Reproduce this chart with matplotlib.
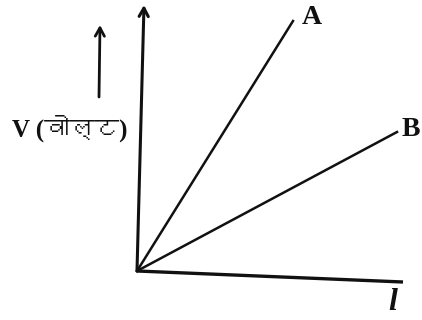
import matplotlib
matplotlib.use("Agg")
import matplotlib.pyplot as plt
from matplotlib import font_manager as fm
from matplotlib import ft2font

# ---- data (origin of graph at 0,0) ----
line_names = ["A", "B"]
l_A = [0, 156]
V_A = [0, 250]
l_B = [0, 260]
V_B = [0, 139]
y_axis_l = [0, 7]
y_axis_V = [0, 266]
x_axis_l = [0, 266]
x_axis_V = [0, -11]
ylabel_text = "V (वोल्ट)"
xlabel_text = "l"

# find a font with Devanagari glyphs
dev_font = None
for f in fm.fontManager.ttflist:
    try:
        cm = ft2font.FT2Font(f.fname).get_charmap()
        if 0x0935 in cm and 0x094B in cm:
            dev_font = f.name
            break
    except Exception:
        pass
label_family = ["Liberation Serif"] + ([dev_font] if dev_font else []) + ["DejaVu Sans"]

fig = plt.figure(figsize=(4.22, 3.2), dpi=100)
ax = fig.add_axes([0, 0, 1, 1])
ax.set_xlim(-137, 285)
ax.set_ylim(-49, 271)
ax.axis("off")

ink = "#111111"
arrow = "->,head_length=0.6,head_width=0.33"

# axes with arrow
ax.annotate("", xy=(y_axis_l[1], y_axis_V[1]), xytext=(y_axis_l[0], y_axis_V[0]),
            arrowprops=dict(arrowstyle=arrow, lw=2.2, color=ink, shrinkA=0, shrinkB=0))
ax.plot(x_axis_l, x_axis_V, color=ink, lw=2.4, solid_capstyle="butt")

# lines
ax.plot(l_A, V_A, color=ink, lw=1.8)
ax.plot(l_B, V_B, color=ink, lw=1.8)
ax.text(l_A[1] + 9, V_A[1] + 4, line_names[0], fontsize=20, fontweight="bold",
        family="Liberation Serif", color=ink, ha="left", va="center")
ax.text(l_B[1] + 5, V_B[1] + 3, line_names[1], fontsize=20, fontweight="bold",
        family="Liberation Serif", color=ink, ha="left", va="center")

# y label with small arrow
ax.text(-9, 143, ylabel_text, fontsize=18, fontweight="bold", family=label_family,
        color=ink, ha="right", va="center")
ax.annotate("", xy=(-37, 246), xytext=(-38, 174),
            arrowprops=dict(arrowstyle=arrow, lw=2.0, color=ink, shrinkA=0, shrinkB=0))

# x label
ax.text(256, -31, xlabel_text, fontsize=23, family="Liberation Serif", style="italic",
        fontweight="bold", color=ink, ha="center", va="center")

fig.savefig("out.png", dpi=100, facecolor="white")
